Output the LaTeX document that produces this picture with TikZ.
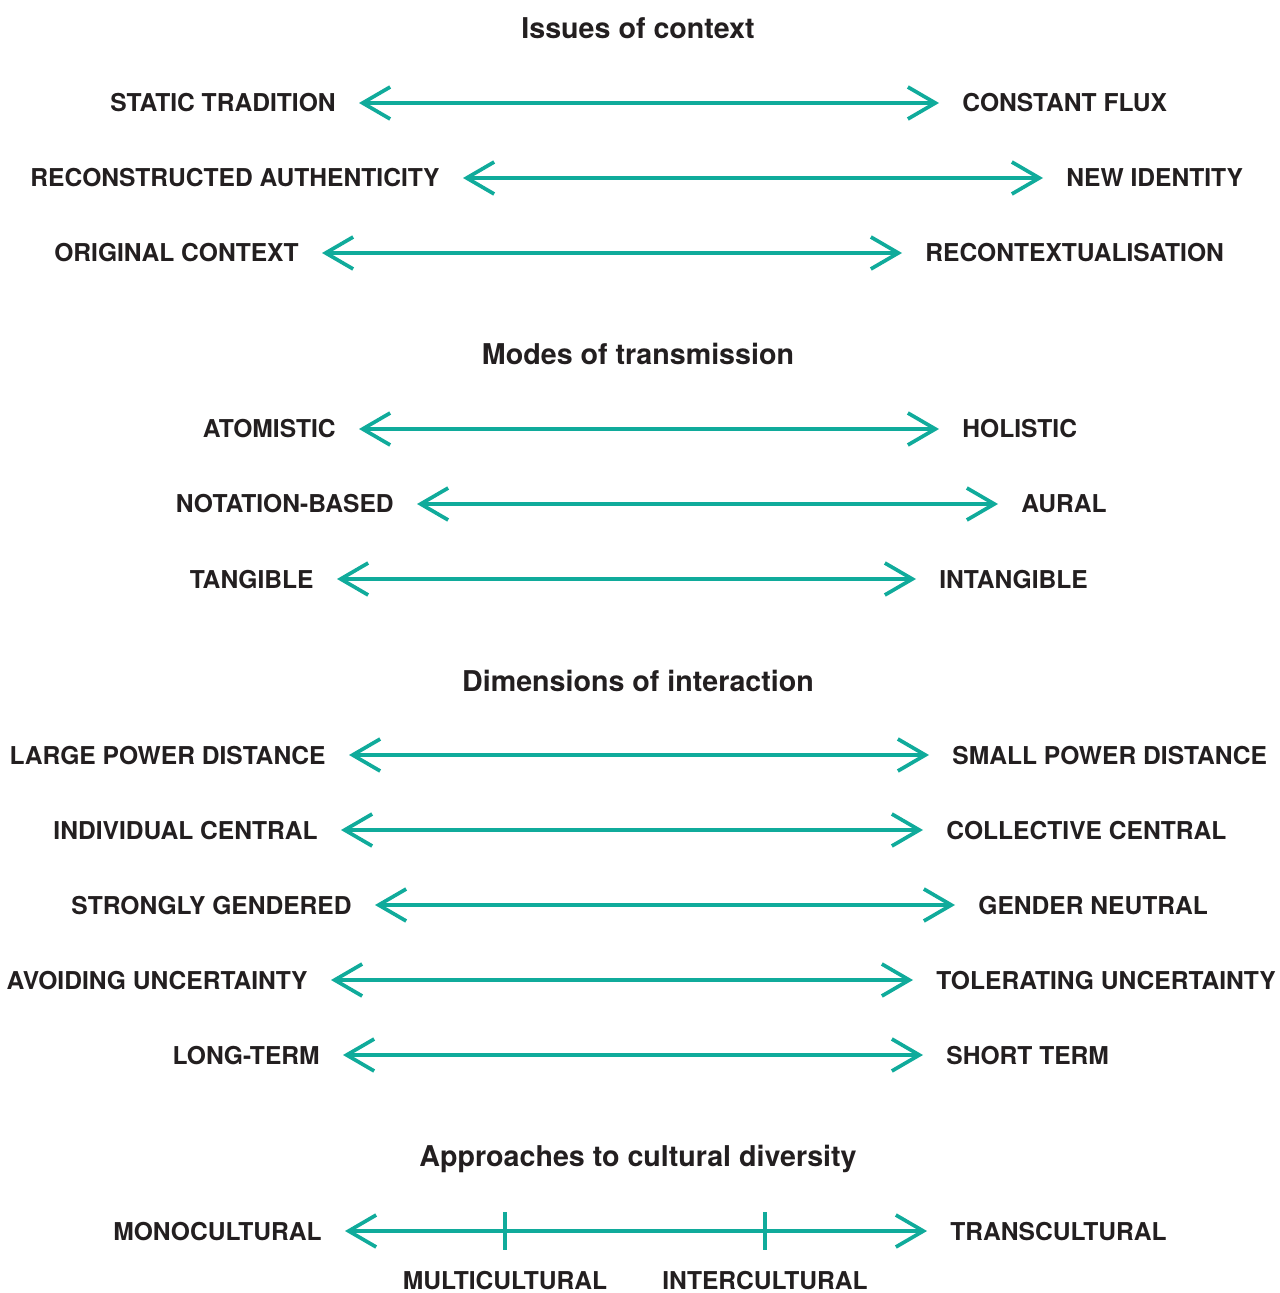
\documentclass[tikz,border=0pt]{standalone}
\usepackage{fontspec}
\setmainfont{TeX Gyre Heros}
\usetikzlibrary{arrows.meta}
\usetikzlibrary{positioning}
\definecolor{arrowteal}{RGB}{16,171,155}
\definecolor{inkgrey}{RGB}{35,31,32}
\tikzset{
	lab/.style={font=\fontsize{14}{14}\selectfont\bfseries, text=inkgrey, inner sep=0pt, text height=0.36cm, text depth=0pt},
	head/.style={font=\fontsize{16.3}{16.3}\selectfont\bfseries, text=inkgrey, inner sep=0pt, anchor=base},
	scalearrow/.style={draw=arrowteal, line width=2.1pt, shorten <=0.46cm, shorten >=0.46cm,
		{Straight Barb[length=0.55cm,width=0.64cm]}-{Straight Barb[length=0.55cm,width=0.64cm]}},
	tick/.style={draw=arrowteal, line width=2.1pt}
}

\begin{document}
\begin{tikzpicture}[x=0.02cm, y=-0.02cm]
	\useasboundingbox (0,0) rectangle (1279,1293);

	% Issues of context
	\node[head] (context) at (638,39) {Issues of context};
	\node[lab, anchor=east] (static) at (336,103) {STATIC TRADITION};
	\node[lab, anchor=west] (flux) at (962,103) {CONSTANT FLUX};
	\node[lab, anchor=east] (recon) at (440,178) {RECONSTRUCTED AUTHENTICITY};
	\node[lab, anchor=west] (newid) at (1066,178) {NEW IDENTITY};
	\node[lab, anchor=east] (orig) at (299,253) {ORIGINAL CONTEXT};
	\node[lab, anchor=west] (recontext) at (925,253) {RECONTEXTUALISATION};
	\draw[scalearrow] (static) -- (flux);
	\draw[scalearrow] (recon) -- (newid);
	\draw[scalearrow] (orig) -- (recontext);

	% Modes of transmission
	\node[head] (modes) at (638,365) {Modes of transmission};
	\node[lab, anchor=east] (atom) at (336,429) {ATOMISTIC};
	\node[lab, anchor=west] (holi) at (962,429) {HOLISTIC};
	\node[lab, anchor=east] (nota) at (394,504) {NOTATION-BASED};
	\node[lab, anchor=west] (aural) at (1021,504) {AURAL};
	\node[lab, anchor=east] (tang) at (314,579) {TANGIBLE};
	\node[lab, anchor=west] (intang) at (939,579) {INTANGIBLE};
	\draw[scalearrow] (atom) -- (holi);
	\draw[scalearrow] (nota) -- (aural);
	\draw[scalearrow] (tang) -- (intang);

	% Dimensions of interaction
	\node[head] (dims) at (638,691) {Dimensions of interaction};
	\node[lab, anchor=east] (large) at (326,755) {LARGE POWER DISTANCE};
	\node[lab, anchor=west] (small) at (952,755) {SMALL POWER DISTANCE};
	\node[lab, anchor=east] (indiv) at (318,830) {INDIVIDUAL CENTRAL};
	\node[lab, anchor=west] (coll) at (946,830) {COLLECTIVE CENTRAL};
	\node[lab, anchor=east] (strong) at (352,905) {STRONGLY GENDERED};
	\node[lab, anchor=west] (neutral) at (978,905) {GENDER NEUTRAL};
	\node[lab, anchor=east] (avoid) at (308,980) {AVOIDING UNCERTAINTY};
	\node[lab, anchor=west] (toler) at (936,980) {TOLERATING UNCERTAINTY};
	\node[lab, anchor=east] (longt) at (320,1055) {LONG-TERM};
	\node[lab, anchor=west] (shortt) at (946,1055) {SHORT TERM};
	\draw[scalearrow] (large) -- (small);
	\draw[scalearrow] (indiv) -- (coll);
	\draw[scalearrow] (strong) -- (neutral);
	\draw[scalearrow] (avoid) -- (toler);
	\draw[scalearrow] (longt) -- (shortt);

	% Approaches to cultural diversity
	\node[head] (approach) at (638,1166) {Approaches to cultural diversity};
	\node[lab, anchor=east] (mono) at (322,1231) {MONOCULTURAL};
	\node[lab, anchor=west] (trans) at (950,1231) {TRANSCULTURAL};
	\node[lab] (multi) at (505,1280) {MULTICULTURAL};
	\node[lab] (inter) at (765,1280) {INTERCULTURAL};
	\draw[scalearrow] (mono) -- (trans);
	\draw[tick] (multi.north) ++(0,-21) -- ++(0,-38);
	\draw[tick] (inter.north) ++(0,-21) -- ++(0,-38);
\end{tikzpicture}
\end{document}
